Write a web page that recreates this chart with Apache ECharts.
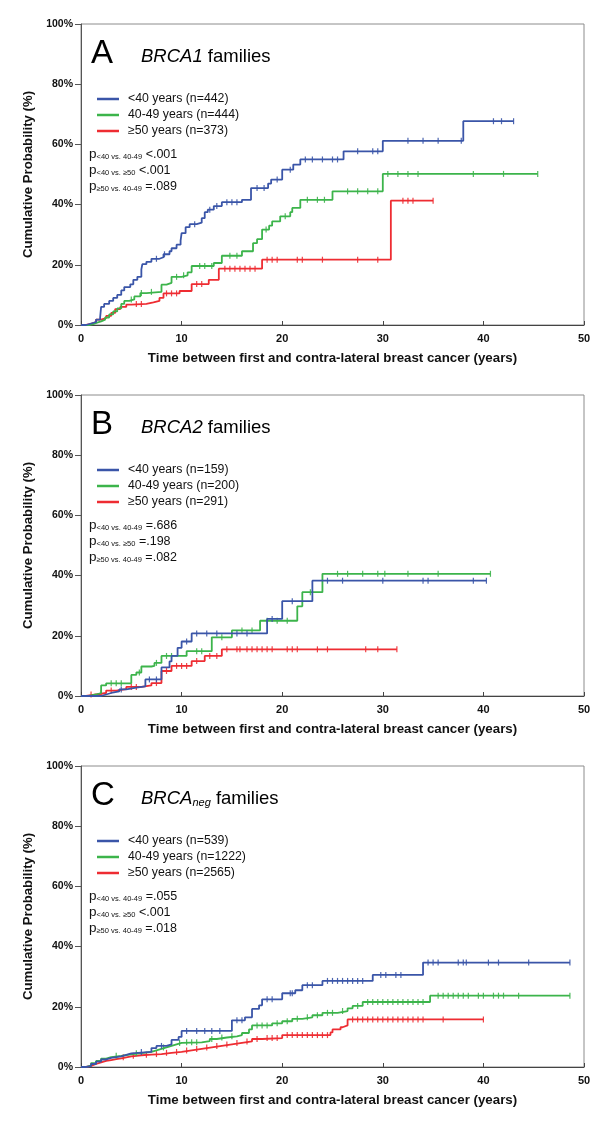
<!DOCTYPE html>
<html>
<head>
<meta charset="utf-8">
<script src="https://cdn.jsdelivr.net/npm/echarts@6/dist/echarts.min.js"></script>
<style>html,body{margin:0;padding:0;background:#fff;}#c{width:600px;height:1130px;}</style>
</head>
<body>
<div id="c"></div>
<script>
// ---------- DATA ----------
const xTicks = [0, 10, 20, 30, 40, 50];
const yTicks = [0, 20, 40, 60, 80, 100];
const panelLetters = ['A', 'B', 'C'];
const panelGenes = ['BRCA1', 'BRCA2', 'BRCA'];
const panelGeneSub = ['', '', 'neg'];
const groupLabels = ['<40 years', '40-49 years', '≥50 years'];
const groupN = [[442, 444, 373], [159, 200, 291], [539, 1222, 2565]];
const pSubs = ['<40 vs. 40-49', '<40 vs. ≥50', '≥50 vs. 40-49'];
const pVals = [['<.001', '<.001', '=.089'], ['=.686', '=.198', '=.082'], ['=.055', '<.001', '=.018']];

// Kaplan-Meier step points [years, cumulative %]
const brca1Lt40 = [[0,0],[0.5,0.5],[1.0,1.0],[1.5,1.8],[1.9,2.5],[2.0,6.0],[2.3,7.0],[2.8,8.0],[3.2,9.0],[3.6,10.0],[4.0,11.5],[4.3,12.6],[4.9,13.5],[5.2,15.0],[5.6,16.0],[6.0,18.5],[6.1,20.2],[6.5,21.0],[7.0,22.0],[7.8,22.5],[8.2,23.5],[8.8,24.5],[9.0,25.5],[9.5,26.7],[9.9,28.0],[10.0,30.5],[10.4,32.5],[10.8,33.5],[11.5,34.0],[12.0,35.5],[12.3,37.5],[12.6,38.3],[13.2,39.5],[14.0,40.8],[16.0,41.6],[16.9,45.5],[18.6,47.0],[18.9,48.3],[20.0,51.6],[21.1,53.3],[21.8,55.0],[26.1,57.7],[30.0,61.2],[38.0,67.7],[43.0,67.7]];
const brca1Mid = [[0,0],[0.8,0.3],[1.2,0.8],[1.6,1.2],[2.0,1.8],[2.4,2.5],[2.8,3.5],[3.2,4.5],[3.6,5.5],[4.0,7.0],[4.3,8.0],[4.8,8.5],[5.3,9.5],[5.9,10.6],[6.5,11.0],[8.0,13.4],[8.5,14.0],[9.0,16.0],[10.0,16.5],[10.6,17.5],[11.0,19.6],[13.2,20.6],[14.0,23.0],[16.0,24.5],[17.1,27.2],[17.5,28.5],[18.0,31.7],[18.7,33.0],[19.0,34.4],[19.8,36.1],[20.8,37.5],[21.0,38.9],[21.8,41.6],[25.0,44.4],[30.0,50.2],[45.4,50.2]];
const brca1Ge50 = [[0,0],[0.5,0.4],[1.0,1.0],[1.5,1.8],[2.0,2.3],[2.5,3.0],[3.0,4.0],[3.4,5.3],[3.9,6.0],[4.5,6.8],[5.0,7.0],[6.5,7.5],[7.2,8.0],[7.8,9.0],[8.2,10.5],[9.8,11.3],[11.0,13.6],[12.7,15.0],[13.7,18.7],[18.0,21.7],[30.8,41.3],[35.0,41.3]];
const brca2Lt40 = [[0,0],[2.0,0.5],[2.5,1.0],[3.0,1.5],[3.8,2.2],[4.5,2.8],[5.5,3.2],[6.4,5.5],[8.0,9.5],[8.8,11.5],[9.0,13.3],[9.6,16.0],[10.0,18.1],[11.0,20.8],[18.5,25.6],[20.0,31.5],[23.0,38.3],[40.3,38.3]];
const brca2Mid = [[0,0],[0.8,0.5],[1.5,1.0],[2.0,3.5],[2.5,4.2],[5.0,7.0],[5.5,7.8],[6.0,9.8],[7.0,10.0],[7.3,11.0],[8.0,13.3],[10.5,14.9],[13.0,19.5],[15.0,21.8],[17.8,25.0],[21.5,29.8],[22.0,34.5],[24.0,40.6],[40.7,40.6]];
const brca2Ge50 = [[0,0],[0.5,0.5],[1.5,1.0],[2.5,1.8],[3.5,2.3],[4.5,3.0],[6.0,3.5],[7.0,4.3],[8.0,8.3],[9.0,10.0],[11.0,11.6],[12.3,13.3],[14.0,15.5],[31.4,15.5]];
const negLt40 = [[0,0],[0.5,0.3],[1.0,1.0],[1.5,1.8],[2.0,2.5],[2.5,3.0],[3.0,3.5],[4.0,4.0],[4.5,4.5],[5.0,5.0],[7.0,6.3],[7.5,7.0],[8.5,7.5],[9.0,9.0],[9.7,10.0],[10.0,12.0],[15.0,15.5],[16.3,16.5],[17.0,19.3],[17.7,20.5],[18.0,22.5],[20.0,24.5],[21.3,25.5],[22.0,27.2],[24.0,28.6],[29.0,30.6],[34.0,34.7],[48.6,34.7]];
const negMid = [[0,0],[0.5,0.5],[1.0,1.3],[1.5,2.0],[2.0,2.8],[2.5,3.3],[3.0,3.7],[4.0,4.2],[5.0,4.6],[6.0,5.0],[7.0,5.5],[7.5,6.0],[8.0,6.5],[8.5,7.0],[9.0,7.5],[9.5,8.0],[10.0,8.2],[12.0,8.6],[12.8,9.3],[13.5,9.8],[14.5,10.2],[15.5,10.6],[16.0,11.3],[16.7,12.5],[17.0,13.8],[19.0,14.5],[20.0,15.2],[21.0,16.0],[22.0,16.5],[23.0,17.2],[24.0,18.0],[25.5,18.6],[26.5,19.5],[27.0,20.3],[28.0,21.6],[34.7,23.7],[48.6,23.7]];
const negGe50 = [[0,0],[0.5,0.4],[1.0,1.0],[1.5,1.5],[2.0,2.0],[2.5,2.3],[3.0,2.6],[3.5,2.9],[4.0,3.2],[4.5,3.5],[5.0,3.7],[5.5,3.9],[6.0,4.1],[7.0,4.3],[8.0,4.7],[9.0,5.0],[10.0,5.5],[11.0,6.0],[12.0,6.5],[13.0,7.0],[14.0,7.5],[15.0,8.0],[16.0,8.5],[17.0,9.3],[18.0,9.6],[20.0,10.6],[24.8,11.5],[25.0,12.5],[25.8,13.2],[26.0,13.8],[26.5,15.8],[40.0,15.8]];

// censoring times (years)
const cens1Lt40 = [7.5,8.3,11.3,12.8,13.5,14.5,15.0,15.5,17.5,18.2,19.5,20.8,22.3,23.0,24.0,25.0,25.5,27.5,29.0,29.5,32.5,34.0,35.5,37.8,41.0,41.8,43.0];
const cens1Mid = [5.0,6.0,7.0,9.5,10.2,11.8,12.3,13.0,14.8,15.5,18.4,20.3,22.5,23.5,24.2,26.5,27.5,28.5,29.5,30.5,31.5,32.5,33.5,39.0,42.0,45.4];
const cens1Ge50 = [5.5,6.0,8.5,9.0,9.5,11.5,12.0,14.3,14.8,15.3,15.8,16.3,16.8,17.3,18.5,19.0,19.5,21.5,22.0,24.0,27.5,29.5,32.0,32.5,33.0,35.0];
const cens2Lt40 = [4.0,6.8,7.5,10.5,11.5,12.5,13.5,15.5,16.5,19.0,21.0,24.5,26.0,30.0,34.0,34.5,39.0,40.3];
const cens2Mid = [3.0,3.5,4.0,5.8,7.5,8.5,9.0,11.5,12.0,14.0,16.0,17.0,18.5,19.5,20.5,22.8,25.5,26.5,28.0,29.5,30.2,32.5,35.5,40.7];
const cens2Ge50 = [1.0,2.0,3.0,5.0,5.5,7.5,8.5,9.5,10.0,10.5,11.5,12.8,13.5,14.5,15.5,15.8,16.5,17.0,17.5,18.0,18.5,19.0,20.5,21.0,21.5,23.5,24.5,28.3,29.5,31.4];
const censNLt40 = [6.0,8.0,10.5,11.5,12.3,13.0,13.8,15.5,16.0,18.5,19.0,20.8,21.0,22.5,23.0,24.5,25.0,25.5,26.0,26.5,27.0,27.5,28.0,29.8,30.3,31.3,31.8,34.5,35.0,35.5,37.5,38.0,38.3,40.5,41.5,44.5,48.6];
const censNMid = [3.5,5.5,8.2,9.8,10.5,11.0,11.5,13.0,14.0,15.0,17.5,18.0,18.5,19.5,20.5,21.5,22.5,23.5,24.5,25.0,26.0,27.5,28.5,29.0,29.5,30.0,30.5,31.0,31.5,32.0,32.5,33.0,33.5,34.0,35.5,36.0,36.5,37.0,37.5,38.0,38.5,39.5,40.0,41.0,41.5,42.0,43.5,48.6];
const censNGe50 = [4.2,5.2,6.5,7.5,8.5,9.5,10.5,11.5,12.5,13.5,14.5,15.5,16.5,17.5,18.5,19.0,19.5,20.5,21.0,21.5,22.0,22.5,23.0,23.5,24.0,24.5,27.0,27.5,28.0,28.5,29.0,29.5,30.0,30.5,31.0,31.5,32.0,32.5,33.0,33.5,34.0,36.0,40.0];

const curves = [[brca1Lt40, brca1Mid, brca1Ge50],[brca2Lt40, brca2Mid, brca2Ge50],[negLt40, negMid, negGe50]];
const censors = [[cens1Lt40, cens1Mid, cens1Ge50],[cens2Lt40, cens2Mid, cens2Ge50],[censNLt40, censNMid, censNGe50]];

// ---------- STYLE / LAYOUT ----------
const colors = ['#3a55a8', '#3cb44b', '#ee2c32'];
const FONT = 'Liberation Sans, Arial, Helvetica, sans-serif';
const gridTops = [24, 395, 766];
const gridH = 301, gridL = 81, gridR = 16;

function kmAt(curve, t) {
  let v = 0;
  for (const p of curve) { if (p[0] <= t) v = p[1]; else break; }
  return v;
}

const grids = [], xAxes = [], yAxes = [], series = [], legends = [], graphics = [];
for (let i = 0; i < 3; i++) {
  const T = gridTops[i];
  grids.push({ left: gridL, right: gridR, top: T, height: gridH, show: true, borderColor: '#8c8c8c', borderWidth: 1, backgroundColor: 'transparent' });
  xAxes.push({
    type: 'value', gridIndex: i, min: xTicks[0], max: xTicks[xTicks.length - 1], interval: 10,
    name: 'Time between first and contra-lateral breast cancer (years)', nameLocation: 'middle', nameGap: 27,
    nameTextStyle: { fontFamily: FONT, fontWeight: 'bold', fontSize: 13.3, color: '#111' },
    axisLine: { onZero: false, lineStyle: { color: '#444', width: 1 } },
    axisTick: { inside: true, length: 4, lineStyle: { color: '#444' } },
    axisLabel: { fontFamily: FONT, fontWeight: 'bold', fontSize: 11, color: '#111', margin: 8 },
    splitLine: { show: false }
  });
  yAxes.push({
    type: 'value', gridIndex: i, min: yTicks[0], max: yTicks[yTicks.length - 1], interval: 20,
    name: 'Cumulative Probability (%)', nameLocation: 'middle', nameGap: 44,
    nameTextStyle: { fontFamily: FONT, fontWeight: 'bold', fontSize: 13.2, color: '#111' },
    axisLine: { lineStyle: { color: '#555', width: 1 } },
    axisTick: { inside: false, length: 6, lineStyle: { color: '#555' } },
    axisLabel: { fontFamily: FONT, fontWeight: 'bold', fontSize: 10.5, color: '#111', margin: 8, formatter: '{value}%' },
    splitLine: { show: false }
  });
  const names = [];
  for (let g = 0; g < 3; g++) {
    const nm = groupLabels[g] + ' (n=' + groupN[i][g] + ')';
    names.push(nm);
    series.push({
      name: nm, type: 'line', xAxisIndex: i, yAxisIndex: i, step: 'end',
      data: curves[i][g], showSymbol: false, symbol: 'none', animation: false,
      lineStyle: { color: colors[g], width: 1.8 }, itemStyle: { color: colors[g] }, z: 3 + (2 - g)
    });
    series.push({
      name: nm + ' censored', type: 'scatter', xAxisIndex: i, yAxisIndex: i,
      data: censors[i][g].map(t => [t, kmAt(curves[i][g], t)]),
      symbol: 'rect', symbolSize: [1.2, 6], itemStyle: { color: colors[g], opacity: 0.9 },
      animation: false, silent: true, z: 3 + (2 - g)
    });
  }
  legends.push({
    data: names, orient: 'vertical', left: 92, top: T + 63, itemWidth: 22, itemHeight: 2.5, icon: 'rect',
    itemGap: 2, selectedMode: false,
    textStyle: { fontFamily: FONT, fontSize: 12.3, color: '#111', lineHeight: 14, padding: [0, 0, 0, 4] }
  });
  // Panel letter
  graphics.push({ type: 'text', left: 91, top: T + 13, style: { text: panelLetters[i], fontFamily: FONT, fontSize: 33, fill: '#000' } });
  // Panel title
  const sub = panelGeneSub[i];
  graphics.push({
    type: 'text', left: 141, top: T + 23,
    style: {
      text: '{g|' + panelGenes[i] + '}' + (sub ? '{s|' + sub + '}' : '') + '{f| families}',
      rich: {
        g: { fontFamily: FONT, fontSize: 18.5, fontStyle: 'italic', fill: '#000', lineHeight: 22, verticalAlign: 'bottom' },
        s: { fontFamily: FONT, fontSize: 11, fontStyle: 'italic', fill: '#000', lineHeight: 5, verticalAlign: 'bottom' },
        f: { fontFamily: FONT, fontSize: 18.5, fill: '#000', lineHeight: 22, verticalAlign: 'bottom' }
      }
    }
  });
  // p-values
  for (let k = 0; k < 3; k++) {
    graphics.push({
      type: 'text', left: 89, top: T + 123 + k * 16,
      style: {
        text: '{p|p}{s|' + pSubs[k] + '}{v| ' + pVals[i][k] + '}',
        rich: {
          p: { fontFamily: FONT, fontSize: 13.5, fill: '#111', lineHeight: 16, verticalAlign: 'bottom' },
          s: { fontFamily: FONT, fontSize: 7.5, fill: '#111', lineHeight: 16, verticalAlign: 'bottom' },
          v: { fontFamily: FONT, fontSize: 12.5, fill: '#111', lineHeight: 16, verticalAlign: 'bottom' }
        }
      }
    });
  }
}

const chart = echarts.init(document.getElementById('c'), null, { renderer: 'canvas' });
chart.setOption({
  backgroundColor: '#fff',
  animation: false,
  grid: grids, xAxis: xAxes, yAxis: yAxes, series: series, legend: legends,
  graphic: graphics
});
</script>
</body>
</html>
